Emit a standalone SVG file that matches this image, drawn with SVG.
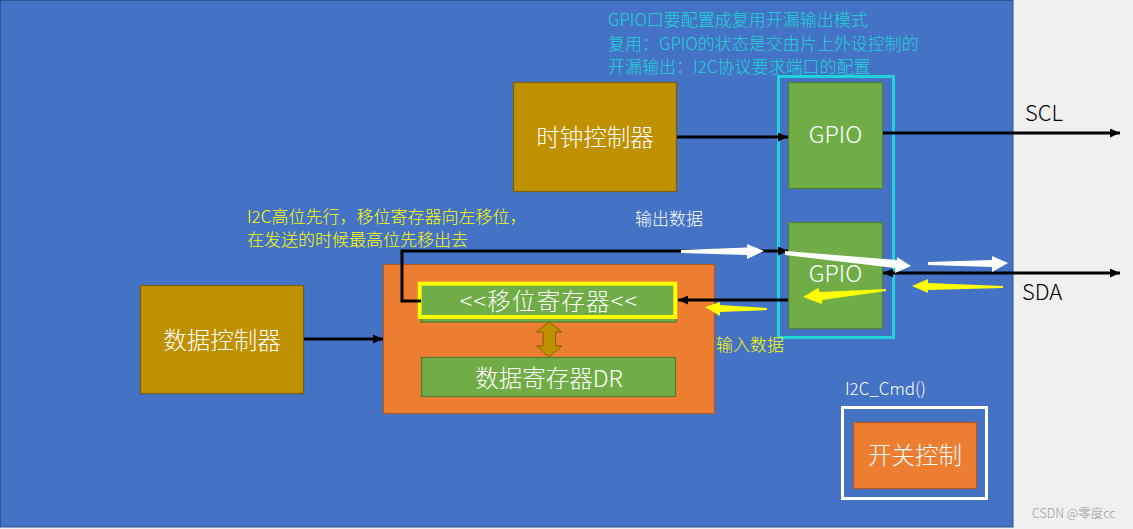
<svg xmlns="http://www.w3.org/2000/svg" width="1133" height="529" viewBox="0 0 1133 529">
<style>
.t{font-family:"Noto Sans CJK SC","Noto Sans",sans-serif;font-weight:300;}
.big{font-size:23.5px;fill:#ffffff;text-anchor:middle;}
.note{font-size:17px;}
.lbl{font-size:22px;fill:#000000;}
.ctrl{fill:#bf9000;stroke:#7f6000;stroke-width:1.2;}
.gpio{fill:#70ad47;stroke:#507e32;stroke-width:1.2;}
.orange{fill:#ed7d31;stroke:#ae5a21;stroke-width:1.2;}
.wire{fill:none;stroke:#000000;stroke-width:3;}
</style>
<defs>
<marker id="ah" viewBox="0 0 10 9" refX="10" refY="4.5" markerWidth="10" markerHeight="9" markerUnits="userSpaceOnUse" orient="auto-start-reverse">
<path d="M0,0 L10,4.5 L0,9 z" fill="#000000"/>
</marker>
</defs>
<rect x="0" y="0" width="1133" height="529" fill="#f0f0f0"/>
<rect id="background" x="0.5" y="0.5" width="1012.5" height="526.5" fill="#4472c4" stroke="#2f528f" stroke-width="1"/>

<g id="note-gpio" class="t note" fill="#22d2d8">
<text x="608" y="26">GPIO口要配置成复用开漏输出模式</text>
<text x="608" y="50">复用：GPIO的状态是交由片上外设控制的</text>
<text x="608" y="73">开漏输出：I2C协议要求端口的配置</text>
</g>

<g id="gpio-group">
<rect x="778.5" y="76.5" width="115" height="261" fill="none" stroke="#1fd3da" stroke-width="3"/>
</g>

<g id="clock-controller">
<rect class="ctrl" x="513.5" y="82.5" width="163" height="109"/>
<text class="t big" x="595" y="146">时钟控制器</text>
</g>

<g id="gpio-scl">
<rect class="gpio" x="788.5" y="82.5" width="94" height="106"/>
<text class="t big" x="835.5" y="143" font-size="22px">GPIO</text>
</g>

<g id="gpio-sda">
<rect class="gpio" x="788.5" y="222.5" width="94" height="106"/>
<text class="t big" x="835.5" y="282" font-size="22px">GPIO</text>
</g>

<g id="data-controller">
<rect class="ctrl" x="140.5" y="285.5" width="163" height="108"/>
<text class="t big" x="222" y="349">数据控制器</text>
</g>

<g id="data-module">
<rect class="orange" x="383.5" y="264.5" width="331" height="149"/>
</g>

<g id="shift-register">
<rect class="gpio" x="421" y="284" width="255" height="38" stroke-width="1"/>
<rect x="419.7" y="283.7" width="255.6" height="33.3" fill="none" stroke="#ffff00" stroke-width="4"/>
<text class="t big" x="549" y="310" font-size="24px" letter-spacing="1.2">&lt;&lt;移位寄存器&lt;&lt;</text>
</g>

<g id="data-register">
<rect class="gpio" x="421.5" y="357.5" width="254" height="39"/>
<text class="t big" x="549" y="387" font-size="24px">数据寄存器DR</text>
</g>

<g id="switch">
<rect x="842.5" y="407.5" width="144" height="91" fill="none" stroke="#ffffff" stroke-width="3"/>
<rect class="orange" x="853.5" y="422.5" width="123" height="66" stroke="#8f5a1a"/>
<text class="t big" x="915" y="464">开关控制</text>
</g>

<g id="connectors">
<line class="wire" x1="677" y1="137" x2="788" y2="137" marker-end="url(#ah)"/>
<line class="wire" x1="883" y1="133" x2="1120" y2="133" marker-end="url(#ah)"/>
<line class="wire" x1="304" y1="339" x2="383" y2="339" marker-end="url(#ah)"/>
<polyline class="wire" points="421,301 402,301 402,251 788,251" marker-end="url(#ah)"/>
<line class="wire" x1="788" y1="300" x2="678" y2="300" marker-end="url(#ah)"/>
<line class="wire" x1="883" y1="273" x2="1120" y2="273" marker-start="url(#ah)" marker-end="url(#ah)"/>
<polygon points="549,322 562,332 555.5,332 555.5,346 562,346 549,357 536.5,346 543,346 543,332 536.5,332" fill="#bf9000" stroke="#7f6000" stroke-width="1"/>
<g fill="#ffffff">
<polygon points="681,250 747,247.5 747,244 764,251 747,259 747,255 681,253"/>
<polygon points="785,251 897,260 897,257 911,266 895,273 895,268 785,255"/>
<polygon points="928,262 992,260 992,256 1008,263 992,272 992,267 928,265"/>
</g>
<g fill="#ffff00">
<polygon points="1003,286 928,283 928,279 912,286 928,293 928,290 1003,288"/>
<polygon points="886,289 820,292 818,288 803,297 822,304 822,300 886,291"/>
<polygon points="767,308 720,305 720,302 705,307 720,316 720,312 767,310"/>
</g>
</g>

<g id="labels" class="t">
<text class="lbl" x="1025" y="121">SCL</text>
<text class="lbl" x="1022" y="300">SDA</text>
<text class="note" x="635" y="225" fill="#ffffff">输出数据</text>
<text class="note" x="716" y="351" fill="#ffff00">输入数据</text>
<text class="note" x="247" y="223" fill="#ffff00">I2C高位先行，移位寄存器向左移位，</text>
<text class="note" x="247" y="246" fill="#ffff00">在发送的时候最高位先移出去</text>
<text class="note" x="845" y="395" fill="#ffffff">I2C_Cmd()</text>
<text x="1032" y="518" font-size="12.5px" fill="#9a9a9a" font-family="'Noto Sans CJK SC','Noto Sans',sans-serif">CSDN @零度cc</text>
</g>
</svg>
